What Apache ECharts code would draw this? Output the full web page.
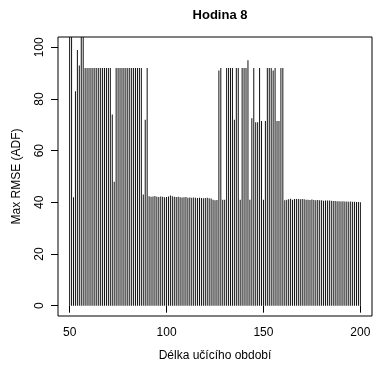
<!DOCTYPE html>
<html>
<head>
<meta charset="utf-8">
<script src="https://cdn.jsdelivr.net/npm/echarts@6/dist/echarts.min.js"></script>
<style>
  html, body { margin: 0; padding: 0; background: #fff; }
  #chart { width: 373px; height: 368px; }
</style>
</head>
<body>
<div id="chart"></div>
<script>
// Training period lengths (x) and the maximal RMSE for each of them
const trainingLength = [];
for (let d = 50; d <= 200; d++) trainingLength.push(d);

const maxRmse = [
  // 50 - 57
  110, 110, 42, 83, 99, 93, 110, 110,
  // 58 - 71
  92, 92, 92, 92, 92, 92, 92, 92, 92, 92, 92, 92, 92, 92,
  // 72 - 73
  74, 48,
  // 74 - 87
  92, 92, 92, 92, 92, 92, 92, 92, 92, 92, 92, 92, 92, 92,
  // 88 - 90
  43, 72, 92,
  // 91 - 126
  42.4, 42.2, 42.3, 42.5, 42.2, 42.1, 42.3, 42.2, 42.0, 42.1,
  42.3, 42.6, 42.4, 42.2, 42.1, 42.2, 42.0, 41.9, 42.0, 42.1,
  41.8, 41.9, 41.8, 41.9, 41.8, 41.7, 41.8, 41.7, 41.6, 41.7,
  41.8, 41.6, 41.5, 41.0, 40.8, 40.9,
  // 127 - 160
  91, 92, 41, 41, 92, 92, 92, 92, 72, 92,
  92, 41, 92, 92, 92, 95, 41, 72.5, 92, 71,
  71, 92, 71.5, 41, 71.5, 92, 92, 92, 91, 92,
  71.5, 71.5, 92, 92,
  // 161 - 200
  40.8, 41.0, 41.2, 41.4, 41.0, 41.3, 41.3, 41.3, 41.2, 41.3,
  41.2, 41.0, 41.0, 40.9, 41.1, 40.9, 40.8, 40.9, 40.8, 40.8,
  40.6, 40.7, 40.7, 40.7, 40.6, 40.5, 40.5, 40.4, 40.4, 40.3,
  40.4, 40.3, 40.3, 40.2, 40.3, 40.2, 40.2, 40.1, 40.1, 40.0
];

const xTicks = [50, 100, 150, 200];
const yTicks = [0, 20, 40, 60, 80, 100];

const chart = echarts.init(document.getElementById('chart'), null, { renderer: 'canvas' });

const font = 'Liberation Sans, Arial, sans-serif';

chart.setOption({
  animation: false,
  backgroundColor: '#fff',
  title: {
    text: 'Hodina 8',
    left: 215,
    top: 4,
    textAlign: 'center',
    textStyle: { fontFamily: font, fontSize: 13, fontWeight: 'bold', color: '#000' }
  },
  grid: {
    left: 58, right: 1, top: 37, bottom: 52,
    outerBoundsMode: 'none',
    containLabel: false,
    show: true, borderColor: '#000', borderWidth: 1, backgroundColor: 'transparent'
  },
  xAxis: {
    type: 'value',
    min: 44, max: 206,
    name: 'Délka učícího období',
    nameLocation: 'middle',
    nameGap: 34,
    nameTextStyle: { fontFamily: font, fontSize: 12, color: '#000' },
    axisLine: { show: false },
    splitLine: { show: false },
    axisTick: { show: true, inside: false, length: 7, customValues: xTicks, lineStyle: { color: '#000' } },
    axisLabel: { customValues: xTicks, margin: 11, fontFamily: font, fontSize: 12, color: '#000' }
  },
  yAxis: {
    type: 'value',
    min: -4, max: 104,
    name: 'Max RMSE (ADF)',
    nameLocation: 'middle',
    nameGap: 35,
    nameTextStyle: { fontFamily: font, fontSize: 12, color: '#000' },
    axisLine: { show: false },
    splitLine: { show: false },
    axisTick: { show: true, inside: false, length: 7, customValues: yTicks, lineStyle: { color: '#000' } },
    axisLabel: { customValues: yTicks, rotate: 90, margin: 12, fontFamily: font, fontSize: 12, color: '#000' }
  },
  series: [{
    type: 'bar',
    data: trainingLength.map((d, i) => [d, maxRmse[i]]),
    barWidth: 1,
    clip: true,
    itemStyle: { color: '#111' },
    silent: true
  }]
});
</script>
</body>
</html>
